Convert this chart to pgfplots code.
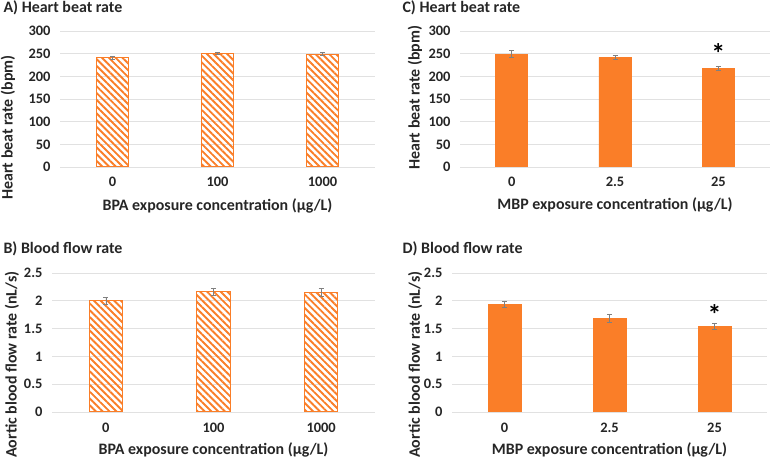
\documentclass[border=0pt]{standalone}
\usepackage{pgfplots}
\pgfplotsset{compat=1.18}
\usepackage{fontspec}
\setmainfont{Carlito}[BoldFont={Carlito Bold}]
\usetikzlibrary{patterns.meta}
\definecolor{exorange}{RGB}{250,126,40}
\definecolor{gridgray}{RGB}{225,225,225}
\pgfplotsset{
  panel/.style={
    scale only axis,
    anchor=south west,
    xmin=-0.5, xmax=2.5,
    xtick={0,1,2},
    axis line style={draw=none},
    major tick length=0pt,
    ymajorgrids,
    grid style={gridgray, line width=0.8pt},
    ybar, bar width=0.31,
    /pgf/number format/assume math mode=true,
    tick label style={font=\fontsize{14.5}{16}\selectfont\bfseries, text=black!85},
    label style={font=\fontsize{16}{18}\selectfont\bfseries, text=black!85},
    yticklabel style={xshift=-6bp},
    error bars/y dir=both, error bars/y explicit,
    error bars/error bar style={gray, line width=0.6pt},
    error bars/error mark options={gray, rotate=90, mark size=2.5bp, line width=0.6pt},
  },
  hatched/.style={draw=exorange, line width=1.1pt,
    pattern={Lines[angle=-45,distance=4.8bp,line width=1.9bp]}, pattern color=exorange},
  solid/.style={draw=exorange, fill=exorange, line width=0.4pt},
}
\begin{document}
\begin{tikzpicture}
\useasboundingbox (0,0) rectangle (776bp,458bp);
\tikzset{ptitle/.style={anchor=west, font=\fontsize{16}{18}\selectfont\bfseries, text=black!85}}
\node[ptitle] at (0bp,450bp) {A) Heart beat rate};
\node[ptitle] at (399bp,450bp) {C) Heart beat rate};
\node[ptitle] at (0bp,209bp) {B) Blood flow rate};
\node[ptitle] at (399bp,209bp) {D) Blood flow rate};

% Panel A
\begin{axis}[panel, at={(60bp,291bp)}, width=315bp, height=136bp,
  ymin=0, ymax=300, ytick={0,50,...,300},
  xticklabels={0,100,1000},
  xticklabel style={yshift=-7bp},
  ylabel={Heart beat rate (bpm)},
  ylabel style={at={(rel axis cs:-0.165,0.29)}, anchor=center, rotate=0},
  xlabel={BPA exposure concentration (\textmu g/L)},
  xlabel style={at={(rel axis cs:0.5,-0.287)}, anchor=center}]
\addplot[hatched] coordinates {(0,241) +- (0,3) (1,251) +- (0,2) (2,249) +- (0,3)};
\end{axis}

% Panel C
\begin{axis}[panel, at={(460bp,291bp)}, width=310bp, height=136bp,
  ymin=0, ymax=300, ytick={0,50,...,300},
  xticklabels={0,2.5,25},
  xticklabel style={yshift=-7bp},
  ylabel={Heart beat rate (bpm)},
  ylabel style={at={(rel axis cs:-0.145,0.51)}, anchor=center, rotate=0},
  xlabel={MBP exposure concentration (\textmu g/L)},
  xlabel style={at={(rel axis cs:0.5,-0.28)}, anchor=center}]
\addplot[solid] coordinates {(0,249) +- (0,8) (1,242) +- (0,4) (2,218) +- (0,4)};
\node[font=\fontsize{28}{28}\selectfont\bfseries] at (axis cs:2,250) {*};
\end{axis}

% Panel B
\begin{axis}[panel, at={(52bp,46bp)}, width=323bp, height=139bp,
  ymin=0, ymax=2.5, ytick={0,0.5,...,2.5},
  yticklabels={0,0.5,1,1.5,2,2.5},
  xticklabels={0,100,1000},
  xticklabel style={yshift=-8bp},
  ylabel={Aortic blood flow rate (nL/s)},
  ylabel style={at={(rel axis cs:-0.124,0.34)}, anchor=center, rotate=0},
  xlabel={BPA exposure concentration (\textmu g/L)},
  xlabel style={at={(rel axis cs:0.5,-0.273)}, anchor=center}]
\addplot[hatched] coordinates {(0,2.00) +- (0,0.06) (1,2.16) +- (0,0.07) (2,2.15) +- (0,0.07)};
\end{axis}

% Panel D
\begin{axis}[panel, at={(452bp,46bp)}, width=315bp, height=139bp,
  ymin=0, ymax=2.5, ytick={0,0.5,...,2.5},
  yticklabels={0,0.5,1,1.5,2,2.5},
  xticklabels={0,2.5,25},
  xticklabel style={yshift=-8bp},
  ylabel={Aortic blood flow rate (nL/s)},
  ylabel style={at={(rel axis cs:-0.117,0.34)}, anchor=center, rotate=0},
  xlabel={MBP exposure concentration (\textmu g/L)},
  xlabel style={at={(rel axis cs:0.5,-0.273)}, anchor=center}]
\addplot[solid] coordinates {(0,1.94) +- (0,0.06) (1,1.69) +- (0,0.07) (2,1.54) +- (0,0.06)};
\node[font=\fontsize{28}{28}\selectfont\bfseries] at (axis cs:2,1.75) {*};
\end{axis}
\end{tikzpicture}
\end{document}
